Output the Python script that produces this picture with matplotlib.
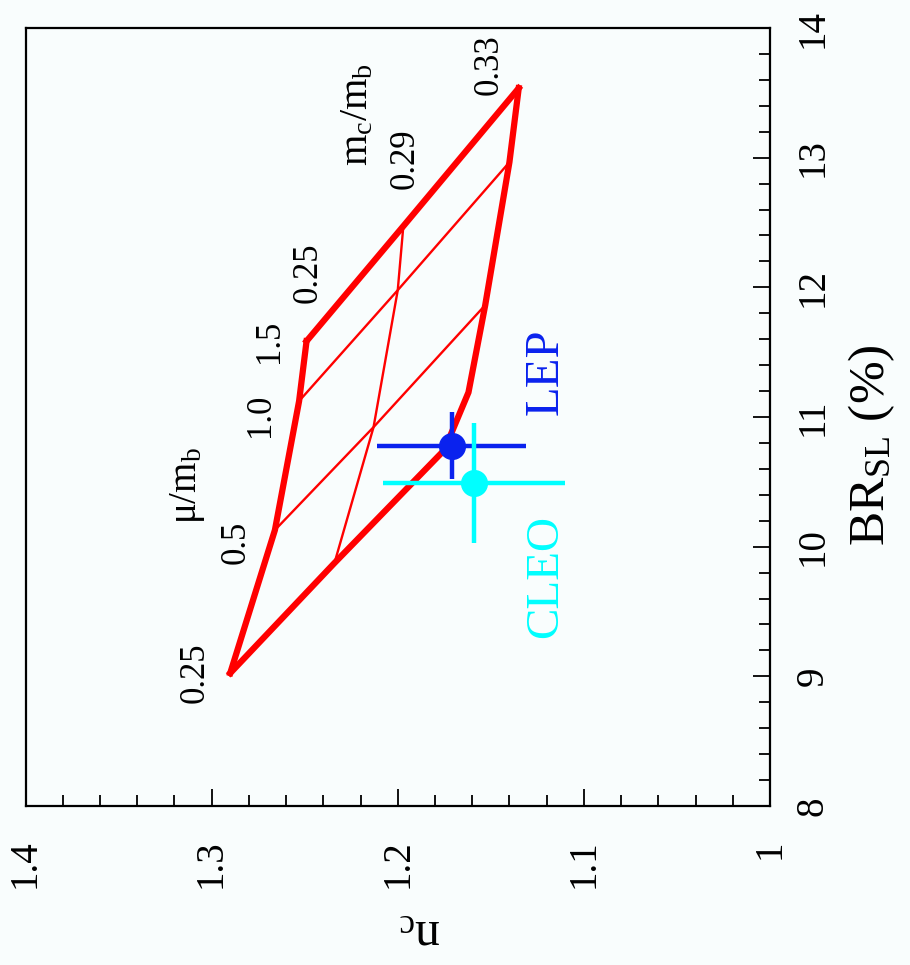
import matplotlib
matplotlib.use("Agg")
import matplotlib.pyplot as plt
from matplotlib.ticker import MultipleLocator, FixedLocator, FixedFormatter

plt.rcParams['font.family'] = ['Liberation Serif', 'DejaVu Serif']
plt.rcParams['mathtext.fontset'] = 'custom'
plt.rcParams['mathtext.rm'] = 'Liberation Serif'
plt.rcParams['mathtext.it'] = 'Liberation Serif:italic'

# Model grid: n_c and BR_SL (%) for each m_c/m_b curve, at each mu/m_b value
mc_over_mb = [0.25, 0.29, 0.33]
mu_over_mb = [0.25, 0.5, 1.0, 1.5]
nc_grid = [
    [1.290, 1.266, 1.253, 1.249],   # m_c/m_b = 0.25
    [1.234, 1.213, 1.200, 1.197],   # m_c/m_b = 0.29
    [1.175, 1.153, 1.140, 1.135],   # m_c/m_b = 0.33
]
br_grid = [
    [9.025, 10.128, 11.123, 11.585],
    [9.874, 10.922, 11.978, 12.472],
    [10.745, 11.863, 12.965, 13.536],
]
# extra vertex on the m_c/m_b = 0.33 curve between mu/m_b = 0.25 and 0.5
mc033_bend_nc = 1.162
mc033_bend_br = 11.19

# Measurements: (n_c, n_c error, BR_SL, BR_SL error)
lep = dict(nc=1.171, nc_err=0.040, br=10.78, br_err=0.26)
cleo = dict(nc=1.159, nc_err=0.049, br=10.49, br_err=0.46)

# axis ticks
nc_ticks = [1.0, 1.1, 1.2, 1.3, 1.4]
nc_tick_labels = ["1", "1.1", "1.2", "1.3", "1.4"]
br_ticks = [8, 9, 10, 11, 12, 13, 14]
br_tick_labels = ["8", "9", "10", "11", "12", "13", "14"]

RED = '#ff0000'
BLUE = '#0a22ee'
CYAN = '#00ffff'
BG = '#f9fdfd'

W, H = 910, 965
fig = plt.figure(figsize=(W / 100, H / 100), dpi=100, facecolor=BG)
ax = fig.add_axes([25.5 / W, (H - 806) / H, (770 - 25.5) / W, (806 - 28) / H])
ax.set_facecolor(BG)

thick, thin = 4.5, 1.7

# curves of constant m_c/m_b (outer ones thick, middle thin)
for i, mc in enumerate(mc_over_mb):
    xs = list(nc_grid[i])
    ys = list(br_grid[i])
    if mc == 0.33:
        xs.insert(1, mc033_bend_nc)
        ys.insert(1, mc033_bend_br)
    lw = thick if i in (0, len(mc_over_mb) - 1) else thin
    ax.plot(xs, ys, color=RED, lw=lw, solid_joinstyle='miter', zorder=2)

# lines of constant mu/m_b (outer ones thick, inner thin)
for j, mu in enumerate(mu_over_mb):
    xs = [nc_grid[i][j] for i in range(len(mc_over_mb))]
    ys = [br_grid[i][j] for i in range(len(mc_over_mb))]
    lw = thick if j in (0, len(mu_over_mb) - 1) else thin
    ax.plot(xs, ys, color=RED, lw=lw, solid_joinstyle='miter', zorder=2)

# measurements
for d, col, z in ((lep, BLUE, 4), (cleo, CYAN, 5)):
    ax.errorbar(d['nc'], d['br'], xerr=d['nc_err'], yerr=d['br_err'],
                fmt='o', color=col, ms=18.5, mec=col, mfc=col,
                elinewidth=3.2, capsize=0, zorder=z)

# grid labels
lab_fs = 25
rot = 90
ax.text(1.309, 9.025, "0.25", rotation=rot, fontsize=lab_fs, ha='center', va='center')
ax.text(1.287, 10.03, "0.5", rotation=rot, fontsize=lab_fs, ha='center', va='center')
ax.text(1.274, 11.01, "1.0", rotation=rot, fontsize=lab_fs, ha='center', va='center')
ax.text(1.269, 11.58, "1.5", rotation=rot, fontsize=lab_fs, ha='center', va='center')
ax.text(1.313, 10.47, "μ/m$_{\\rm b}$", rotation=rot, fontsize=28, ha='center', va='center')
ax.text(1.248, 12.11, "0.25", rotation=rot, fontsize=lab_fs, ha='center', va='center')
ax.text(1.196, 12.99, "0.29", rotation=rot, fontsize=lab_fs, ha='center', va='center')
ax.text(1.151, 13.72, "0.33", rotation=rot, fontsize=lab_fs, ha='center', va='center')
ax.text(1.2215, 13.33, "m$_{\\rm c}$/m$_{\\rm b}$", rotation=rot, fontsize=29,
        ha='center', va='center')
ax.text(1.1205, 11.35, "LEP", rotation=rot, fontsize=35, color=BLUE, ha='center', va='center')
ax.text(1.1205, 9.77, "CLEO", rotation=rot, fontsize=34, color=CYAN, ha='center', va='center')

# axes
ax.set_xlim(1.4, 1.0)
ax.set_ylim(8, 14)
ax.xaxis.set_major_locator(FixedLocator(nc_ticks))
ax.xaxis.set_major_formatter(FixedFormatter(nc_tick_labels))
ax.xaxis.set_minor_locator(MultipleLocator(0.02))
ax.yaxis.set_major_locator(FixedLocator(br_ticks))
ax.yaxis.set_major_formatter(FixedFormatter(br_tick_labels))
ax.yaxis.set_minor_locator(MultipleLocator(0.2))

ax.tick_params(axis='x', which='both', direction='in', bottom=True, top=False,
               labelbottom=True, labelrotation=90, pad=24, labelsize=28)
ax.tick_params(axis='y', which='both', direction='in', left=False, right=True,
               labelleft=False, labelright=True, labelrotation=90, pad=18, labelsize=28)
ax.tick_params(which='major', length=12, width=1.3)
ax.tick_params(which='minor', length=8, width=1.3)
for lbl in ax.get_yticklabels():
    lbl.set_va('center')
for sp in ax.spines.values():
    sp.set_linewidth(1.6)

fig.text(872 / W, 1 - 445 / H, "BR$_{\\rm SL}$ (%)", rotation=90, fontsize=37,
         ha='center', va='center')
fig.text(420 / W, 1 - 932 / H, "n$_{\\rm c}$", rotation=180, fontsize=36,
         ha='center', va='center')

fig.savefig("out.png", dpi=100, facecolor=BG)
